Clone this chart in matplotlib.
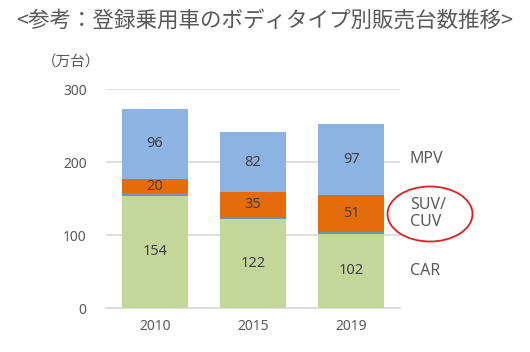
import numpy as np
import matplotlib
matplotlib.use('Agg')
import matplotlib.pyplot as plt
from matplotlib.patches import Ellipse

plt.rcParams['font.family'] = ['Noto Sans CJK JP', 'DejaVu Sans']
latin = ['Noto Sans', 'DejaVu Sans']

# Data
years = ['2010', '2015', '2019']
car = [154, 122, 102]
other = [3, 2, 2]
suv = [20, 35, 51]
mpv = [96, 82, 97]
series_names = ['CAR', 'SUV/\nCUV', 'MPV']

col_car = '#C4D79B'
col_other = '#6A93C8'
col_suv = '#E46C0A'
col_mpv = '#8DB3E2'
txt = '#595959'

fig = plt.figure(figsize=(5.3, 3.52), dpi=100)
ax = fig.add_axes([0.2, 0.125, 0.555, 0.622])

x = np.arange(len(years))
w = 0.67
b1 = np.array(car)
b2 = b1 + np.array(other)
b3 = b2 + np.array(suv)
ax.bar(x, car, w, color=col_car, zorder=3)
ax.bar(x, other, w, bottom=b1, color=col_other, zorder=3)
ax.bar(x, suv, w, bottom=b2, color=col_suv, zorder=3)
ax.bar(x, mpv, w, bottom=b3, color=col_mpv, zorder=3)

for i in range(len(years)):
    for val, yc in [(car[i], car[i] / 2), (suv[i], b2[i] + suv[i] / 2), (mpv[i], b3[i] + mpv[i] / 2)]:
        ax.text(x[i], yc, str(val), ha='center', va='center', fontsize=10.5,
                color='#404040', family=latin, zorder=4)

# series labels at the right, next to the last bar
centers = [car[-1] / 2, b2[-1] + suv[-1] / 2, b3[-1] + mpv[-1] / 2]
for name, yc in zip(series_names, centers):
    ax.text(2.6, yc, name, ha='left', va='center', fontsize=11.5, color=txt,
            family=latin, linespacing=1.05, clip_on=False)

ax.set_xlim(-0.5, 2.5)
ax.set_ylim(0, 300)
ax.set_yticks([0, 100, 200, 300])
ax.set_xticks(x)
ax.set_xticklabels(years)
ax.tick_params(axis='both', length=0, labelsize=10, colors=txt)
ax.tick_params(axis='y', pad=14)
ax.tick_params(axis='x', pad=8)
for lab in ax.get_xticklabels() + ax.get_yticklabels():
    lab.set_family(latin)
ax.grid(axis='y', color='#D9D9D9', linewidth=1.2, zorder=0)
for s in ['top', 'right', 'left']:
    ax.spines[s].set_visible(False)
ax.spines['bottom'].set_color('#D9D9D9')
ax.spines['bottom'].set_linewidth(1.2)

fig.text(0.135, 0.825, '（万台）', ha='center', va='center', fontsize=10.5, color=txt)
fig.text(0.5, 0.94, '<参考：登録乗用車のボディタイプ別販売台数推移>', ha='center', va='center',
         fontsize=15.5, color=txt)

# red ellipse around SUV/CUV
ell = Ellipse((430 / 530, 1 - 214 / 352), 85 / 530, 55 / 352, transform=fig.transFigure,
              fill=False, edgecolor='#E02020', linewidth=1.3)
fig.patches.append(ell)

fig.savefig('out.png', dpi=100)
